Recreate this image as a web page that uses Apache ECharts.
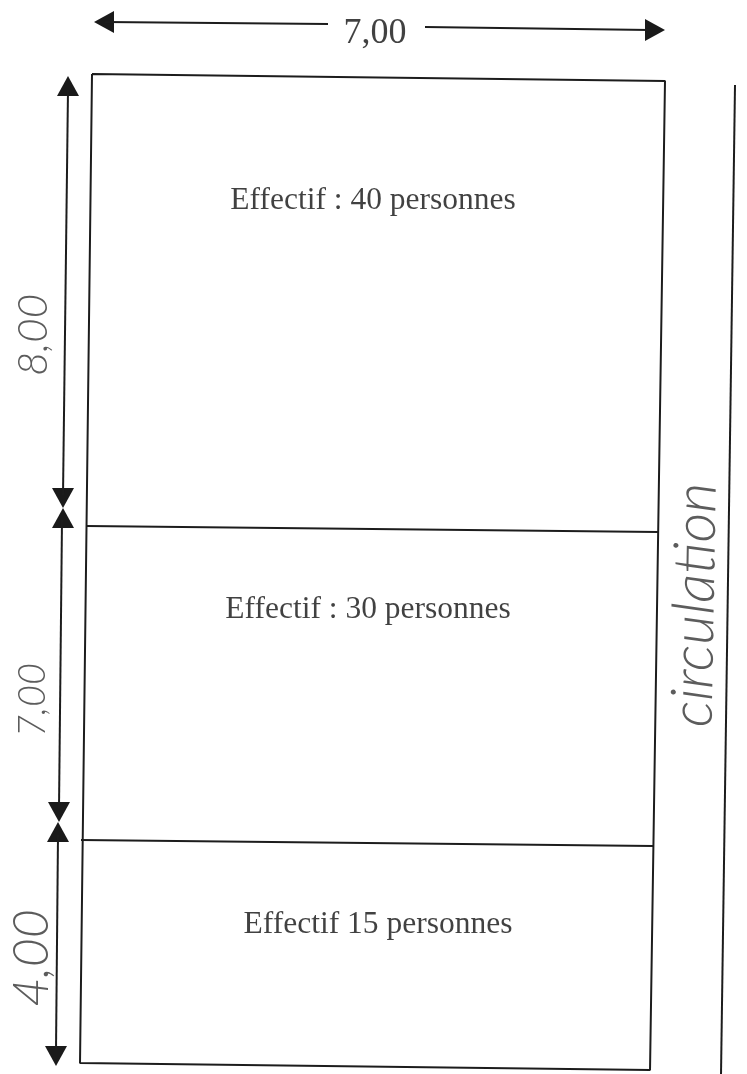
<!DOCTYPE html>
<html><head><meta charset="utf-8">
<style>html,body{margin:0;padding:0;background:#fff}#c{width:747px;height:1074px}</style>
<script src="https://cdn.jsdelivr.net/npm/echarts@6/dist/echarts.min.js"></script>
</head><body><div id="c"></div>
<script>
const roomOutline = [[92,74],[665,81],[650,1070],[80,1063],[92,74]];
const wallUpper = [[87,526],[658,532]];
const wallLower = [[81,840],[653,846]];
const circulationLine = [[735,85],[721,1074]];
const dimTopLeft = [[105,22],[328,24]];
const dimTopRight = [[425,27],[650,30]];
const dim800 = [[68,90],[63,495]];
const dim700 = [[62,520],[59,808]];
const dim400 = [[58,835],[56,1050]];
const arrowsUp = [[68,86],[63,518],[58,832]];
const arrowsDown = [[63,498],[59,812],[56,1056]];
const arrowsLeft = [[104,22]];
const arrowsRight = [[655,30]];
const printedLabels = [
  {name:'7,00', value:[375,34], size:36},
  {name:'Effectif : 40 personnes', value:[373,201], size:31.5},
  {name:'Effectif : 30 personnes', value:[368,610], size:31.5},
  {name:'Effectif 15 personnes', value:[378,925], size:31.5}
];
const handLabels = [
  {name:'8,00', value:[33,335], size:42, rotate:90},
  {name:'7,00', value:[33,700], size:38, rotate:90},
  {name:'4,00', value:[32,958], size:50, rotate:90},
  {name:'circulation', value:[695,605], size:58, rotate:89}
];
const ink = '#1c1c1c';
const line = (data, width) => ({type:'line', data, symbol:'none', silent:true, animation:false,
  lineStyle:{color:ink, width}});
const arrows = (data, rotate) => ({type:'scatter', data, symbol:'triangle', symbolSize:[22,20], symbolRotate:rotate,
  silent:true, animation:false, itemStyle:{color:'#1a1a1a', opacity:1}});
const text = (data, font, style, weight, color) => ({type:'scatter', symbolSize:0, silent:true, animation:false,
  data:data.map(d => ({name:d.name, value:d.value, label:{show:true, position:'inside', formatter:d.name,
    fontFamily:font, fontStyle:style, fontWeight:weight, fontSize:d.size, rotate:d.rotate||0, color}}))});
const chart = echarts.init(document.getElementById('c'), null, {renderer:'canvas'});
chart.setOption({
  backgroundColor:'#fff', animation:false,
  grid:{left:0,right:0,top:0,bottom:0},
  xAxis:{type:'value',min:0,max:747,show:false},
  yAxis:{type:'value',min:0,max:1074,inverse:true,show:false},
  tooltip:{show:false},
  series:[
    line(roomOutline,2), line(wallUpper,2), line(wallLower,2), line(circulationLine,2),
    line(dimTopLeft,2), line(dimTopRight,2), line(dim800,2), line(dim700,2), line(dim400,2),
    arrows(arrowsUp,0), arrows(arrowsDown,180), arrows(arrowsLeft,90), arrows(arrowsRight,-90),
    text(printedLabels,'Liberation Serif','normal','normal','#111'),
    text(handLabels,'Lato','italic',300,'#333')
  ]
});
</script></body></html>
